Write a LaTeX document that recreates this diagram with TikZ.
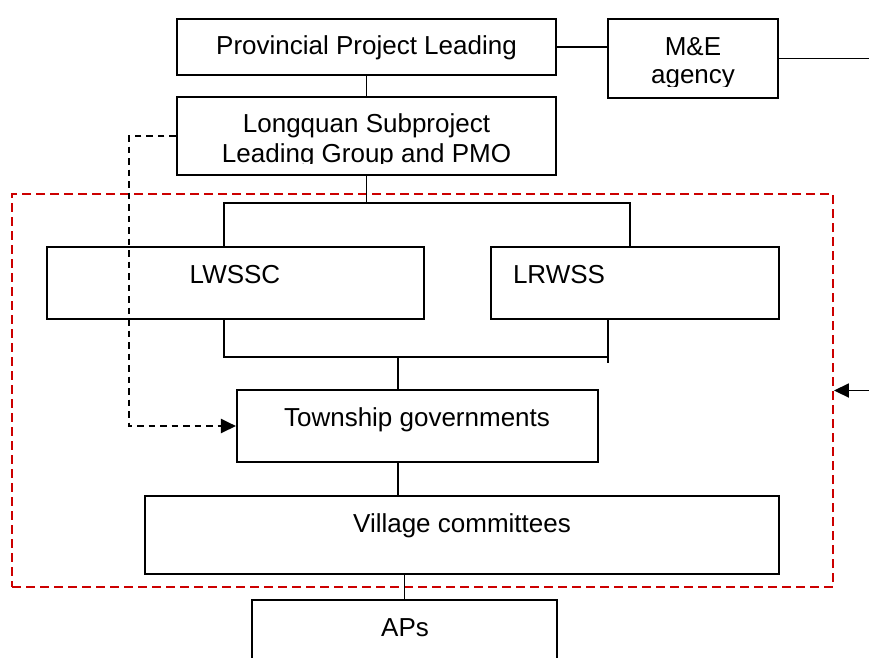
\documentclass[tikz,border=0pt]{standalone}
\usepackage{fontspec}
\setmainfont{Liberation Sans}
\usetikzlibrary{arrows.meta}
\begin{document}
\begin{tikzpicture}[x=1pt,y=-1pt,
  box/.style={draw, line width=2.1pt, inner sep=0pt, rectangle},
  txt/.style={anchor=base, inner sep=0pt, font=\fontsize{26}{30}\selectfont},
  conn/.style={line width=1.9pt},
  reddash/.style={draw={rgb,255:red,204;green,0;blue,0}, line width=1.9pt, dash pattern=on 9pt off 5pt, inner sep=0pt, rectangle},
  blackdash/.style={line width=2.2pt, dash pattern=on 6.5pt off 5pt},
  arr/.style={-{Triangle[length=15pt,width=14pt]}}]
\clip (0,0) rectangle (869,657);
\fill[white] (0,0) rectangle (869,657);

% frame
\node[reddash, minimum width=821pt, minimum height=393pt] (frame) at (422.5,390.5) {};

% boxes
\node[box, minimum width=379pt, minimum height=56pt] (prov) at (366.5,47) {};
\node[box, minimum width=379pt, minimum height=78pt] (lq) at (366.5,136) {};
\node[box, minimum width=170pt, minimum height=79pt] (me) at (693,58.5) {};
\node[box, minimum width=377pt, minimum height=72pt] (lwssc) at (235.5,283) {};
\node[box, minimum width=288pt, minimum height=72pt] (lrwss) at (635,283) {};
\node[box, minimum width=361pt, minimum height=72pt] (town) at (417.5,426) {};
\node[box, minimum width=634pt, minimum height=78pt] (vill) at (462,535) {};
\node[box, minimum width=305pt, minimum height=80pt] (aps) at (404.5,640) {};

% texts
\node[txt] (provt) at (366.5,54) {Provincial Project Leading};
\node[txt] (lqt1) at (366.5,132) {Longquan Subproject};
\begin{scope}
\clip (180,138) rectangle (553,163.5);
\node[txt] (lqt2) at (366.5,162) {Leading Group and PMO};
\end{scope}
\node[txt] (met1) at (693,55) {M\&E};
\begin{scope}
\clip (611,60) rectangle (775,86.5);
\node[txt] (met2) at (693,83) {agency};
\end{scope}
\node[txt] (lwssct) at (235,283) {LWSSC};
\node[txt] (lrwsst) at (559,283) {LRWSS};
\node[txt] (townt) at (417,426) {Township governments};
\node[txt] (villt) at (462,532) {Village committees};
\node[txt] (apst) at (405,636) {APs};

% coordinates
\coordinate (meout) at (869,58.5);
\coordinate (arrin) at (869,390.5);
\coordinate (barL) at (224,203);
\coordinate (barR) at (630,203);
\coordinate (bL) at (224,357);
\coordinate (bR) at (608,357);
\coordinate (bRend) at (608,363);
\coordinate (bM) at (398,357);
\coordinate (dc) at (129,426);

% connectors
\draw[conn] (prov.east) -- (me.west |- prov.east);
\draw[conn] (me.east) -- (meout);
\draw[conn] (prov.south) -- (lq.north);
\draw[conn] (lq.south) -- (lq.south |- barL);
\draw[conn] (lwssc.north -| barL) -- (barL) -- (barR) -- (lrwss.north -| barR);
\draw[conn] (lwssc.south -| bL) -- (bL) -- (bR);
\draw[conn] (lrwss.south -| bR) -- (bRend);
\draw[conn] (bM) -- (bM |- town.north);
\draw[conn] (town.south -| bM) -- (vill.north -| bM);
\draw[conn] (vill.south -| aps.north) -- (aps.north);
\draw[conn, arr] (arrin) -- (frame.east);
\draw[blackdash, arr] (lq.west) -| (dc) -- (town.west);
\end{tikzpicture}
\end{document}
